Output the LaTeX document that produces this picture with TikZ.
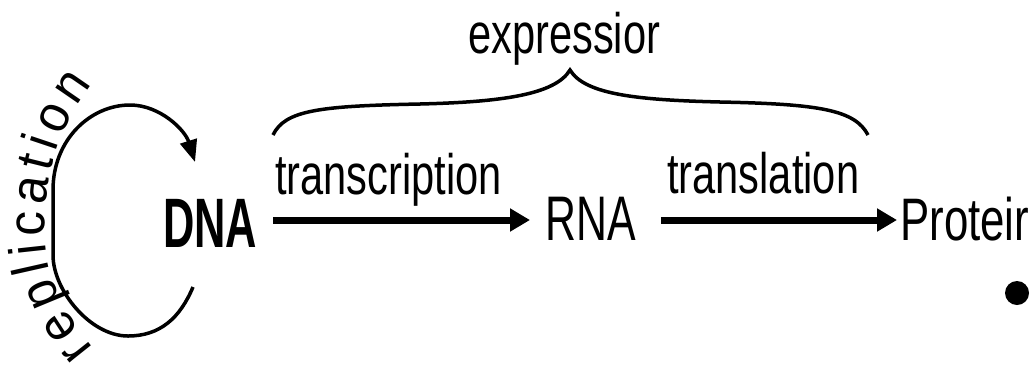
\documentclass[tikz,border=0pt]{standalone}
\usepackage{fontspec}
\setmainfont{Liberation Sans}
\newfontfamily\narrowfam[FakeStretch=0.73]{Liberation Sans}
\newfontfamily\dnafam[FakeStretch=0.62]{Liberation Sans}
\newfontfamily\rnafam[FakeStretch=0.68]{Liberation Sans}
\newfontfamily\repfam[FakeStretch=0.95]{Liberation Sans}
\usetikzlibrary{arrows.meta,decorations.text}
\begin{document}
\begin{tikzpicture}[x=1pt,y=-1pt,
  lab/.style={inner sep=0pt, anchor=base west, font=\narrowfam\fontsize{57}{60}\selectfont},
  dnastyle/.style={inner sep=0pt, anchor=base west, font=\dnafam\bfseries\fontsize{70}{72}\selectfont},
  rnastyle/.style={inner sep=0pt, anchor=base west, font=\rnafam\fontsize{63}{66}\selectfont},
  protstyle/.style={inner sep=0pt, anchor=base west, font=\narrowfam\fontsize{60}{62}\selectfont},
  flow/.style={line width=7pt, -{Triangle[length=20pt,width=22pt]}},
  loopline/.style={line width=3.5pt, -{Triangle[length=22pt,width=17pt]}},
  bracelines/.style={line width=3.5pt},
]
\fill[white] (0,0) rectangle (1032,368);
\useasboundingbox (0,0) rectangle (1032,368);

% text nodes
\node[lab] (expr) at (468,53) {expressior};
\node[lab] (tlab) at (275,194) {transcription};
\node[lab] (llab) at (667,193) {translation};
\node[dnastyle] (DNA) at (163,247) {DNA};
\node[rnastyle] (RNA) at (545,240) {RNA};
\node[protstyle] (Prot) at (900,240) {Proteir};

% main arrows
\coordinate (axis) at (0,220);
\draw[flow, shorten <=16pt, shorten >=15pt] (DNA.east |- axis) -- (RNA.west |- axis);
\draw[flow, shorten <=25pt, shorten >=3pt] (RNA.east |- axis) -- (Prot.west |- axis);

% brace over transcription + translation
\coordinate (bl) at (273,135);
\coordinate (btip) at (570,70);
\coordinate (br) at (868,135);
\draw[bracelines] (bl) .. controls (285,110) and (320,106) .. (420,104)
  .. controls (500,102) and (555,95) .. (btip)
  .. controls (585,95) and (640,100) .. (720,102)
  .. controls (820,104) and (855,110) .. (br);

% replication loop
\coordinate (repA) at (193,287);
\coordinate (repB) at (195,162);
\draw[loopline] (repA) .. controls (180,318) and (160,336) .. (128,336)
  .. controls (90,336) and (53,290) .. (53,255) -- (53,190)
  .. controls (53,140) and (90,105) .. (130,105)
  .. controls (160,105) and (185,130) .. (repB);

\path[decorate, decoration={text along path,
   text={|\repfam\fontsize{52}{54}\selectfont|replication},
   text align={fit to path}}]
   (94,348) .. controls (66,314) and (45,280) .. (45,230)
   .. controls (45,170) and (62,122) .. (92,84);

% bullet
\node[circle, fill=black, minimum size=24pt, inner sep=0pt] (bullet) at (1017,293) {};
\end{tikzpicture}
\end{document}
